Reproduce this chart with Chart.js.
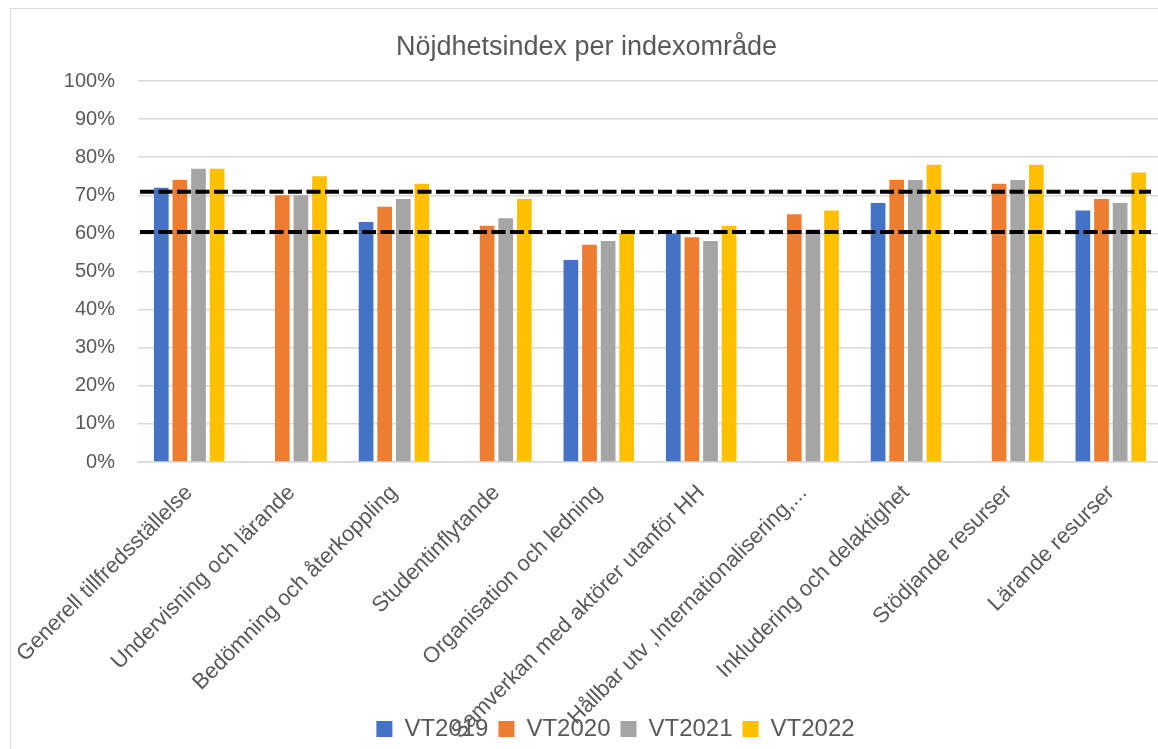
<!DOCTYPE html>
<html><head><meta charset="utf-8">
<script src="https://cdn.jsdelivr.net/npm/chart.js@4.4.1/dist/chart.umd.min.js"></script>
<style>
html,body{margin:0;padding:0;background:#fff;overflow:hidden;width:1158px;height:749px;}
#frame{position:absolute;left:10px;top:8px;width:1168px;height:760px;border:1px solid #d9d9d9;}
canvas{display:block;}
</style></head><body>
<div id="frame"><canvas id="c" width="1168" height="742"></canvas></div>
<script>
const categories = [
  'Generell tillfredsställelse',
  'Undervisning och lärande',
  'Bedömning och återkoppling',
  'Studentinflytande',
  'Organisation och ledning',
  'Samverkan med aktörer utanför HH',
  'Hållbar utv ,Internationalisering,...',
  'Inkludering och delaktighet',
  'Stödjande resurser',
  'Lärande resurser'
];
const seriesNames = ['VT2019', 'VT2020', 'VT2021', 'VT2022'];
const vt2019 = [72, null, 63, null, 53, 60, null, 68, null, 66];
const vt2020 = [74, 70, 67, 62, 57, 59, 65, 74, 73, 69];
const vt2021 = [77, 70, 69, 64, 58, 58, 61, 74, 74, 68];
const vt2022 = [77, 75, 73, 69, 60, 62, 66, 78, 78, 76];
const referenceLines = [70.9, 60.4];
const yMin = 0, yMax = 100, yStep = 10;
const titleText = 'Nöjdhetsindex per indexområde';

const colors = ['#4472C4', '#ED7D31', '#A5A5A5', '#FFC000'];
const seriesData = [vt2019, vt2020, vt2021, vt2022];
const FONT = '"Liberation Sans", Arial, sans-serif';
const TXT = '#595959';

const refLinePlugin = {
  id: 'refLines',
  afterLayout(chart) {
    // shift the legend block to match the reference's horizontal placement
    if (chart.legend) { chart.legend.left += 29; chart.legend.right += 29; }
    // let long category labels run down behind the legend instead of being clipped
    chart.scales.x.bottom = chart.height;
  },
  afterDatasetsDraw(chart) {
    const {ctx, chartArea, scales} = chart;
    ctx.save();
    ctx.strokeStyle = '#000';
    ctx.lineWidth = 4;
    ctx.setLineDash([14, 4.5]);
    referenceLines.forEach(v => {
      const py = scales.y.getPixelForValue(v);
      ctx.beginPath();
      ctx.moveTo(chartArea.left + 2, py);
      ctx.lineTo(chartArea.right - 11, py);
      ctx.stroke();
    });
    ctx.restore();
  }
};

new Chart(document.getElementById('c'), {
  type: 'bar',
  data: {
    labels: categories,
    datasets: seriesNames.map((n, i) => ({
      label: n,
      data: seriesData[i],
      backgroundColor: colors[i],
      borderWidth: 0,
      categoryPercentage: 0.727,
      barPercentage: 0.79
    }))
  },
  plugins: [refLinePlugin],
  options: {
    responsive: false,
    animation: false,
    devicePixelRatio: 1,
    layout: {padding: {top: 0, left: 0, right: 17, bottom: 0}},
    plugins: {
      title: {
        display: true,
        text: titleText,
        color: TXT,
        font: {family: FONT, size: 27, weight: 'normal'},
        padding: {top: 22, bottom: 17.6}
      },
      legend: {
        display: true,
        position: 'bottom',
        labels: {
          color: TXT,
          font: {family: FONT, size: 24},
          boxWidth: 16,
          boxHeight: 16,
          padding: 10
        }
      },
      tooltip: {enabled: false}
    },
    scales: {
      x: {
        grid: {display: false, drawTicks: false},
        border: {display: true, color: '#d9d9d9', width: 1.5},
        ticks: {
          color: TXT,
          font: {family: FONT, size: 22},
          minRotation: 45,
          maxRotation: 45,
          autoSkip: false,
          padding: 18
        },
        afterFit(scale) {
          scale.height = 245;
          scale.paddingLeft = 0;
          scale.paddingRight = 0;
        }
      },
      y: {
        min: yMin,
        max: yMax,
        grid: {color: '#d9d9d9', lineWidth: 1.5, drawTicks: false},
        border: {display: false},
        ticks: {
          stepSize: yStep,
          color: TXT,
          font: {family: FONT, size: 20},
          padding: 23,
          callback: v => v + '%'
        },
        afterFit(scale) { scale.width = 127; }
      }
    }
  }
});
</script>
</body></html>
